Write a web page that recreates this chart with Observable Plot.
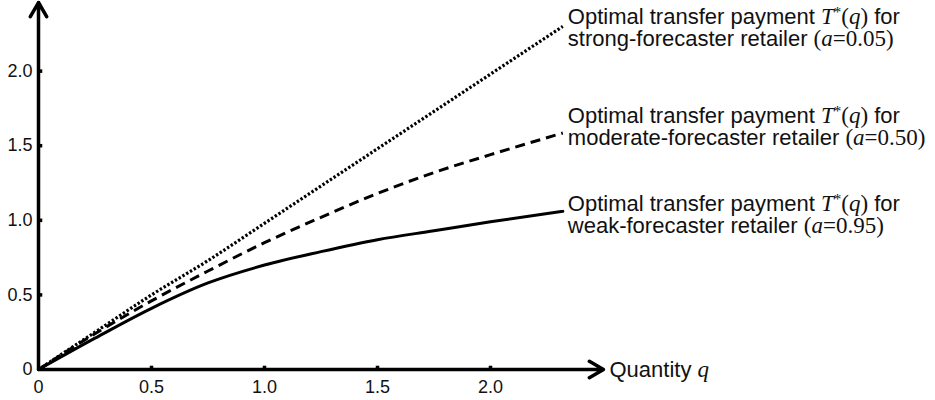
<!DOCTYPE html>
<html>
<head>
<meta charset="utf-8">
<script src="https://cdn.jsdelivr.net/npm/d3@7"></script>
<script src="https://cdn.jsdelivr.net/npm/@observablehq/plot@0.6"></script>
<style>
  html, body { margin: 0; padding: 0; background: #fff; }
  #chart { width: 935px; height: 400px; }
</style>
</head>
<body>
<div id="chart"></div>
<script>
// ---- data ----
const quantity       = [0, 0.25, 0.5, 0.75, 1.0, 1.25, 1.5, 1.75, 2.0, 2.32];
const strongValues   = [0, 0.25, 0.50, 0.73, 0.98, 1.23, 1.48, 1.73, 1.98, 2.30];
const moderateValues = [0, 0.24, 0.46, 0.66, 0.85, 1.02, 1.18, 1.32, 1.44, 1.585];
const weakValues     = [0, 0.21, 0.41, 0.58, 0.70, 0.79, 0.87, 0.93, 0.99, 1.06];

const seriesNames = ["strong", "moderate", "weak"];
const seriesLabels = [
  "Optimal transfer payment T*(q) for\nstrong-forecaster retailer (a=0.05)",
  "Optimal transfer payment T*(q) for\nmoderate-forecaster retailer (a=0.50)",
  "Optimal transfer payment T*(q) for\nweak-forecaster retailer (a=0.95)"
];

const xTicks = [0, 0.5, 1.0, 1.5, 2.0];
const xTickLabels = ["0", "0.5", "1.0", "1.5", "2.0"];
const yTicks = [0, 0.5, 1.0, 1.5, 2.0];
const yTickLabels = ["0", "0.5", "1.0", "1.5", "2.0"];
const xAxisTitle = "Quantity q";
const xAxisEnd = 2.5;
const yAxisEnd = 2.46;

// ---- tables built from the arrays ----
const allValues = [strongValues, moderateValues, weakValues];
const rows = [];
seriesNames.forEach((s, k) => quantity.forEach((q, i) => rows.push({series: s, q, t: allValues[k][i]})));
const ends = seriesNames.map((s, k) => ({series: s, q: quantity[quantity.length - 1], t: allValues[k][allValues[k].length - 1], label: seriesLabels[k]}));

// ---- styles ----
const lineStyles = {
  strong:   {strokeWidth: 3.2, strokeDasharray: "2.4,2", cap: "butt"},
  moderate: {strokeWidth: 3, strokeDasharray: "10,6", cap: "butt"},
  weak:     {strokeWidth: 3, strokeDasharray: null, cap: "round"}
};
const labelDy = {strong: -18, moderate: -26, weak: -16};
const labelFont = 22;

const marks = [];
for (const s of seriesNames) {
  marks.push(Plot.line(rows.filter(d => d.series === s), {
    x: "q", y: "t", stroke: "black", curve: "monotone-x",
    strokeWidth: lineStyles[s].strokeWidth,
    strokeLinecap: lineStyles[s].cap,
    strokeDasharray: lineStyles[s].strokeDasharray || undefined
  }));
}
// axes with arrows
marks.push(Plot.arrow([{x1: 0, y1: 0, x2: xAxisEnd, y2: 0}], {x1: "x1", y1: "y1", x2: "x2", y2: "y2", stroke: "black", strokeWidth: 3.5, headLength: 7, insetStart: 0, insetEnd: 0}));
marks.push(Plot.arrow([{x1: 0, y1: 0, x2: 0, y2: yAxisEnd}], {x1: "x1", y1: "y1", x2: "x2", y2: "y2", stroke: "black", strokeWidth: 3.5, headLength: 7, insetStart: 0, insetEnd: 0}));
// tick marks
marks.push(Plot.dot(xTicks.slice(1), {x: d => d, y: () => 0, symbol: "square", r: 2, fill: "black", stroke: "none", dy: -2}));
marks.push(Plot.dot(yTicks.slice(1), {x: () => 0, y: d => d, symbol: "square", r: 2, fill: "black", stroke: "none", dx: 2}));
// tick labels
marks.push(Plot.text(xTicks, {x: d => d, y: () => 0, text: (d, i) => xTickLabels[i], dy: 18, fontSize: 18, fill: "#111"}));
marks.push(Plot.text(yTicks, {x: () => 0, y: d => d, text: (d, i) => yTickLabels[i], dx: -6, textAnchor: "end", fontSize: 18, fill: "#111"}));
// x axis title
marks.push(Plot.text([xAxisTitle], {x: () => xAxisEnd, y: () => 0, text: d => d, dx: 6, textAnchor: "start", fontSize: labelFont, fill: "#111"}));
// series labels
for (const s of seriesNames) {
  marks.push(Plot.text(ends.filter(d => d.series === s), {
    x: "q", y: "t", text: "label", textAnchor: "start", lineAnchor: "top",
    dx: 5, dy: labelDy[s], fontSize: labelFont, lineHeight: 1.0, fill: "#111"
  }));
}

const plot = Plot.plot({
  width: 935,
  height: 400,
  marginLeft: 38,
  marginRight: 332,
  marginTop: 2,
  marginBottom: 31,
  x: {domain: [0, xAxisEnd], axis: null},
  y: {domain: [0, yAxisEnd], axis: null},
  style: {fontFamily: "'Liberation Sans', Arial, sans-serif", background: "white", overflow: "visible"},
  marks
});
document.getElementById("chart").appendChild(plot);

// ---- rich text: italic serif math parts ----
const SERIF = "'Liberation Serif', 'Times New Roman', serif";
function richify(str) {
  return str
    .replace("T*(q)",
      `<tspan font-family="${SERIF}" font-style="italic" font-size="23">T</tspan>` +
      `<tspan font-family="${SERIF}" font-size="15" dy="-7">*</tspan>` +
      `<tspan font-family="${SERIF}" font-size="23" dy="7">(</tspan>` +
      `<tspan font-family="${SERIF}" font-style="italic" font-size="23">q</tspan>` +
      `<tspan font-family="${SERIF}" font-size="23">)</tspan>`)
    .replace(/\(a=([0-9.]+)\)/,
      (m, v) => `<tspan font-family="${SERIF}" font-size="23">(</tspan>` +
      `<tspan font-family="${SERIF}" font-style="italic" font-size="23">a</tspan>` +
      `<tspan font-family="${SERIF}" font-size="23">=${v})</tspan>`)
    .replace("Quantity q",
      `Quantity <tspan font-family="${SERIF}" font-style="italic" font-size="23">q</tspan>`);
}
d3.select(plot).selectAll("text").each(function() {
  const tspans = this.querySelectorAll("tspan");
  if (tspans.length) {
    tspans.forEach(ts => {
      const t = ts.textContent;
      if (/T\*\(q\)|\(a=|Quantity q/.test(t)) ts.innerHTML = richify(t);
    });
  } else {
    const t = this.textContent;
    if (/T\*\(q\)|\(a=|Quantity q/.test(t)) this.innerHTML = richify(t);
  }
});
</script>
</body>
</html>
